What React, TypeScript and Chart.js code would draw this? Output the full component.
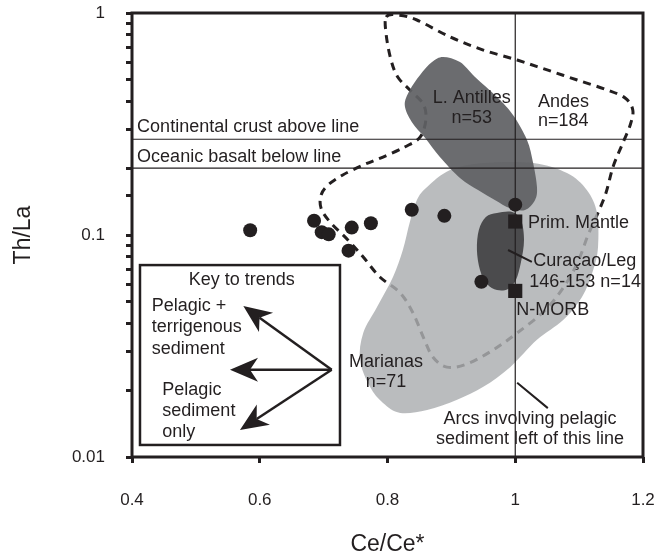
import React, { useEffect, useRef } from 'react';
import { Chart, registerables } from 'chart.js';

Chart.register(...registerables);

const FONT = '"Liberation Sans", Arial, Helvetica, sans-serif';
const INK = '#231f20';

// ---- axes ----
const xTickValues = [0.4, 0.6, 0.8, 1.0, 1.2];
const xTickLabels = ['0.4', '0.6', '0.8', '1', '1.2'];
const yTickValues = [0.01, 0.1, 1];
const yTickLabels = ['0.01', '0.1', '1'];

// ---- samples (Ce/Ce*, Th/La) ----
const sampleCe = [0.585, 0.685, 0.697, 0.708, 0.739, 0.744, 0.774, 0.838, 0.889, 0.947, 1.0];
const sampleThLa = [0.105, 0.116, 0.103, 0.1007, 0.085, 0.108, 0.113, 0.13, 0.122, 0.0616, 0.137];

// ---- reference reservoirs ----
const refNames = ['Prim. Mantle', 'N-MORB'];
const refCe = [1.0, 1.0];
const refThLa = [0.115, 0.056];

// ---- reference lines ----
const continentalCrustThLa = 0.27;
const oceanicBasaltThLa = 0.2;
const pelagicLimitCe = 1.0;

// ---- fields ----
const andesCe = [0.798, 0.8165, 0.846, 0.898, 0.95, 1.003, 1.05, 1.097, 1.144, 1.172, 1.184, 1.18, 1.167, 1.153, 1.142, 1.128, 1.114, 1.098, 1.078, 1.047, 1.003, 0.965, 0.924, 0.893, 0.871, 0.856, 0.84, 0.82, 0.788, 0.762, 0.738, 0.71, 0.696, 0.696, 0.707, 0.73, 0.762, 0.793, 0.827, 0.851, 0.86, 0.856, 0.835, 0.816, 0.8055, 0.798];
const andesThLa = [0.959, 0.979, 0.93, 0.78, 0.681, 0.614, 0.554, 0.499, 0.45, 0.414, 0.366, 0.313, 0.254, 0.2025, 0.1546, 0.123, 0.1, 0.0756, 0.0595, 0.0459, 0.0362, 0.0303, 0.0262, 0.0254, 0.0282, 0.0347, 0.0445, 0.0548, 0.0647, 0.0796, 0.095, 0.1145, 0.132, 0.1514, 0.168, 0.1864, 0.2067, 0.2245, 0.249, 0.276, 0.33, 0.389, 0.45, 0.515, 0.614, 0.796];

const marianasCe = [0.862, 0.898, 0.95, 1.028, 1.081, 1.112, 1.128, 1.1296, 1.122, 1.1045, 1.075, 1.034, 0.992, 0.95, 0.909, 0.862, 0.82, 0.793, 0.7726, 0.757, 0.762, 0.7836, 0.8086, 0.824, 0.835, 0.846];
const marianasThLa = [0.1645, 0.196, 0.211, 0.211, 0.19, 0.1594, 0.1257, 0.0883, 0.0696, 0.0526, 0.0414, 0.0337, 0.0254, 0.0207, 0.0181, 0.0163, 0.0158, 0.0175, 0.0207, 0.0273, 0.0362, 0.0474, 0.0647, 0.0856, 0.1145, 0.1438];

const antillesCe = [0.887, 0.9135, 0.937, 0.9714, 0.9965, 1.0184, 1.028, 1.034, 1.031, 1.0153, 0.992, 0.968, 0.9417, 0.9135, 0.882, 0.859, 0.838, 0.827, 0.835, 0.851, 0.8697];
const antillesThLa = [0.634, 0.601, 0.515, 0.418, 0.347, 0.268, 0.211, 0.1645, 0.1438, 0.1296, 0.132, 0.1438, 0.1594, 0.1806, 0.2245, 0.2735, 0.323, 0.385, 0.45, 0.526, 0.601];

const curacaoCe = [0.9714, 0.995, 1.009, 1.0137, 1.009, 1.001, 0.9887, 0.9714, 0.9558, 0.9448, 0.94, 0.943, 0.954];
const curacaoThLa = [0.1257, 0.127, 0.1168, 0.095, 0.0756, 0.0627, 0.0571, 0.0565, 0.0601, 0.0696, 0.0856, 0.1053, 0.1205];

// ---- annotations (anchored in data units) ----
const curacaoLeaderCe = [0.9887, 1.026];
const curacaoLeaderThLa = [0.0856, 0.0756];
const arcsLeaderCe = [1.003, 1.051];
const arcsLeaderThLa = [0.0216, 0.0166];

const keyBoxCe = [0.4125, 0.7256];
const keyBoxThLa = [0.0732, 0.01133];
const arrowOrigin = [0.7126, 0.0247];
const arrowTipCe = [0.5743, 0.5534, 0.569];
const arrowTipThLa = [0.0479, 0.0247, 0.01323];

const noteTexts = [
  'Continental crust above line', 'Oceanic basalt below line',
  'L. Antilles', 'n=53', 'Andes', 'n=184',
  'Prim. Mantle', 'Curaçao/Leg', '146-153 n=14', 'N-MORB',
  'Marianas', 'n=71',
  'Arcs involving pelagic', 'sediment left of this line',
  'Key to trends', 'Pelagic +', 'terrigenous', 'sediment',
  'Pelagic', 'sediment', 'only',
];
const noteCe = [0.408, 0.408, 0.932, 0.932, 1.0356, 1.0356, 1.02, 1.028, 1.022, 1.0015, 0.7977, 0.7977, 1.023, 1.023, 0.5717, 0.4308, 0.4308, 0.4308, 0.4475, 0.4475, 0.4475];
const noteThLa = [0.305, 0.2245, 0.416, 0.3365, 0.399, 0.326, 0.113, 0.076, 0.0611, 0.0457, 0.0268, 0.0217, 0.0148, 0.01205, 0.0627, 0.0479, 0.0385, 0.0308, 0.0201, 0.0161, 0.0129];
const noteAlign = ['left', 'left', 'center', 'center', 'left', 'left', 'left', 'left', 'left', 'left', 'center', 'center', 'center', 'center', 'center', 'left', 'left', 'left', 'left', 'left', 'left'];

const zip = (a: number[], b: number[]) => a.map((v, i) => ({ x: v, y: b[i] }));

function smoothClosed(ctx: CanvasRenderingContext2D, pts: number[][]) {
  const n = pts.length;
  ctx.beginPath();
  ctx.moveTo(pts[0][0], pts[0][1]);
  for (let i = 0; i < n; i++) {
    const p0 = pts[(i - 1 + n) % n];
    const p1 = pts[i];
    const p2 = pts[(i + 1) % n];
    const p3 = pts[(i + 2) % n];
    ctx.bezierCurveTo(
      p1[0] + (p2[0] - p0[0]) / 6, p1[1] + (p2[1] - p0[1]) / 6,
      p2[0] - (p3[0] - p1[0]) / 6, p2[1] - (p3[1] - p1[1]) / 6,
      p2[0], p2[1]
    );
  }
  ctx.closePath();
}

function drawArrow(ctx: CanvasRenderingContext2D, x0: number, y0: number, x1: number, y1: number) {
  const ang = Math.atan2(y1 - y0, x1 - x0);
  const len = 28, half = 12, notch = 20;
  const ux = Math.cos(ang), uy = Math.sin(ang);
  const bx = x1 - ux * len, by = y1 - uy * len;
  const nx = x1 - ux * notch, ny = y1 - uy * notch;
  ctx.beginPath();
  ctx.moveTo(x0, y0);
  ctx.lineTo(nx, ny);
  ctx.lineWidth = 2.5;
  ctx.strokeStyle = INK;
  ctx.stroke();
  ctx.beginPath();
  ctx.moveTo(x1, y1);
  ctx.lineTo(bx - uy * half, by + ux * half);
  ctx.lineTo(nx, ny);
  ctx.lineTo(bx + uy * half, by - ux * half);
  ctx.closePath();
  ctx.fillStyle = INK;
  ctx.fill();
}

const fieldsPlugin = {
  id: 'fields',
  beforeDatasetsDraw(chart: any) {
    const { ctx, chartArea, scales } = chart;
    const sx = scales.x, sy = scales.y;
    const toPx = (cs: number[], ts: number[]) => cs.map((c, i) => [sx.getPixelForValue(c), sy.getPixelForValue(ts[i])]);
    ctx.save();
    ctx.beginPath();
    ctx.rect(chartArea.left, chartArea.top, chartArea.right - chartArea.left, chartArea.bottom - chartArea.top);
    ctx.clip();
    smoothClosed(ctx, toPx(andesCe, andesThLa));
    ctx.setLineDash([8, 6]);
    ctx.lineWidth = 3;
    ctx.strokeStyle = INK;
    ctx.stroke();
    ctx.setLineDash([]);
    smoothClosed(ctx, toPx(marianasCe, marianasThLa));
    ctx.fillStyle = 'rgba(172,174,177,0.83)';
    ctx.fill();
    smoothClosed(ctx, toPx(antillesCe, antillesThLa));
    ctx.fillStyle = 'rgba(96,97,100,0.93)';
    ctx.fill();
    smoothClosed(ctx, toPx(curacaoCe, curacaoThLa));
    ctx.fillStyle = '#4b4b4d';
    ctx.fill();
    ctx.restore();
  },
  afterDatasetsDraw(chart: any) {
    const { ctx, chartArea, scales } = chart;
    const sx = scales.x, sy = scales.y;
    const px = (v: number) => sx.getPixelForValue(v);
    const py = (v: number) => sy.getPixelForValue(v);
    ctx.save();
    ctx.strokeStyle = INK;
    ctx.lineWidth = 2;
    ctx.beginPath();
    ctx.moveTo(px(curacaoLeaderCe[0]), py(curacaoLeaderThLa[0]));
    ctx.lineTo(px(curacaoLeaderCe[1]), py(curacaoLeaderThLa[1]));
    ctx.moveTo(px(arcsLeaderCe[0]), py(arcsLeaderThLa[0]));
    ctx.lineTo(px(arcsLeaderCe[1]), py(arcsLeaderThLa[1]));
    ctx.stroke();
    const bx0 = px(keyBoxCe[0]), bx1 = px(keyBoxCe[1]);
    const by0 = py(keyBoxThLa[0]), by1 = py(keyBoxThLa[1]);
    ctx.fillStyle = '#ffffff';
    ctx.fillRect(bx0, by0, bx1 - bx0, by1 - by0);
    ctx.lineWidth = 2.5;
    ctx.strokeRect(bx0, by0, bx1 - bx0, by1 - by0);
    for (let i = 0; i < arrowTipCe.length; i++) {
      drawArrow(ctx, px(arrowOrigin[0]), py(arrowOrigin[1]), px(arrowTipCe[i]), py(arrowTipThLa[i]));
    }
    ctx.fillStyle = INK;
    ctx.font = `18px ${FONT}`;
    ctx.textBaseline = 'middle';
    noteTexts.forEach((t, i) => {
      ctx.textAlign = noteAlign[i] as CanvasTextAlign;
      ctx.fillText(t, px(noteCe[i]), py(noteThLa[i]));
    });
    ctx.lineWidth = 3;
    ctx.strokeStyle = INK;
    ctx.strokeRect(chartArea.left, chartArea.top, chartArea.right - chartArea.left, chartArea.bottom - chartArea.top);
    ctx.restore();
  },
};

const noPad = (s: any) => {
  s.paddingTop = 0;
  s.paddingBottom = 0;
  s.paddingLeft = 0;
  s.paddingRight = 0;
};

export default function App() {
  const ref = useRef<HTMLCanvasElement | null>(null);
  useEffect(() => {
    if (!ref.current) return;
    const isPow10 = (v: number) => {
      const l = Math.log10(v);
      return Math.abs(l - Math.round(l)) < 1e-6;
    };
    const chart = new Chart(ref.current, {
      type: 'scatter',
      data: {
        datasets: [
          {
            label: 'Samples',
            data: zip(sampleCe, sampleThLa),
            pointRadius: 7,
            pointBorderWidth: 0,
            backgroundColor: INK,
            borderColor: INK,
          },
          {
            label: refNames.join(', '),
            data: zip(refCe, refThLa),
            pointStyle: 'rect',
            pointRadius: 10,
            pointBorderWidth: 0,
            backgroundColor: INK,
            borderColor: INK,
          },
          {
            label: 'Pelagic limit',
            data: zip([pelagicLimitCe, pelagicLimitCe], [0.01, 1]),
            showLine: true,
            pointRadius: 0,
            borderWidth: 1.2,
            borderColor: INK,
          },
          {
            label: 'Continental crust',
            data: zip([0.4, 1.2], [continentalCrustThLa, continentalCrustThLa]),
            showLine: true,
            pointRadius: 0,
            borderWidth: 1.2,
            borderColor: INK,
          },
          {
            label: 'Oceanic basalt',
            data: zip([0.4, 1.2], [oceanicBasaltThLa, oceanicBasaltThLa]),
            showLine: true,
            pointRadius: 0,
            borderWidth: 1.2,
            borderColor: INK,
          },
        ],
      },
      options: {
        responsive: false,
        animation: false,
        layout: { padding: { left: 0, top: 13, right: 17, bottom: 0 } },
        plugins: { legend: { display: false }, tooltip: { enabled: false } },
        scales: {
          x: {
            type: 'linear',
            min: 0.4,
            max: 1.2,
            afterBuildTicks: (s: any) => {
              s.ticks = xTickValues.map((v) => ({ value: v }));
            },
            afterFit: (s: any) => {
              s.height = 101;
              noPad(s);
            },
            ticks: {
              autoSkip: false,
              maxRotation: 0,
              padding: 27,
              color: INK,
              font: { family: FONT, size: 17 },
              callback: (v: any) => {
                const i = xTickValues.findIndex((t) => Math.abs(t - Number(v)) < 1e-6);
                return i >= 0 ? xTickLabels[i] : '';
              },
            },
            grid: { drawOnChartArea: false, drawTicks: true, tickLength: 6, tickWidth: 3, tickColor: INK, color: INK, lineWidth: 3 },
            border: { display: false },
            title: { display: true, text: 'Ce/Ce*', color: INK, font: { family: FONT, size: 23 }, padding: { top: 0, bottom: 0 } },
          },
          y: {
            type: 'logarithmic',
            min: 0.01,
            max: 1,
            afterFit: (s: any) => {
              s.width = 132;
              noPad(s);
            },
            ticks: {
              autoSkip: false,
              padding: 21,
              color: INK,
              font: { family: FONT, size: 17 },
              callback: (v: any) => {
                const n = Number(v);
                if (!isPow10(n)) return '';
                const i = yTickValues.findIndex((t) => Math.abs(Math.log10(t) - Math.log10(n)) < 1e-6);
                return i >= 0 ? yTickLabels[i] : '';
              },
            },
            grid: { drawOnChartArea: false, drawTicks: true, tickLength: 6, tickWidth: 3, tickColor: INK, color: INK, lineWidth: 3 },
            border: { display: false },
            title: { display: true, text: 'Th/La', color: INK, font: { family: FONT, size: 23 }, padding: { top: 10, bottom: 0 } },
          },
        },
      },
      plugins: [fieldsPlugin],
    } as any);
    return () => chart.destroy();
  }, []);
  return (
    <div style={{ position: 'fixed', left: 0, top: 0, width: 660, height: 558, background: '#fff' }}>
      <canvas ref={ref} width={660} height={558} style={{ display: 'block' }} />
    </div>
  );
}
